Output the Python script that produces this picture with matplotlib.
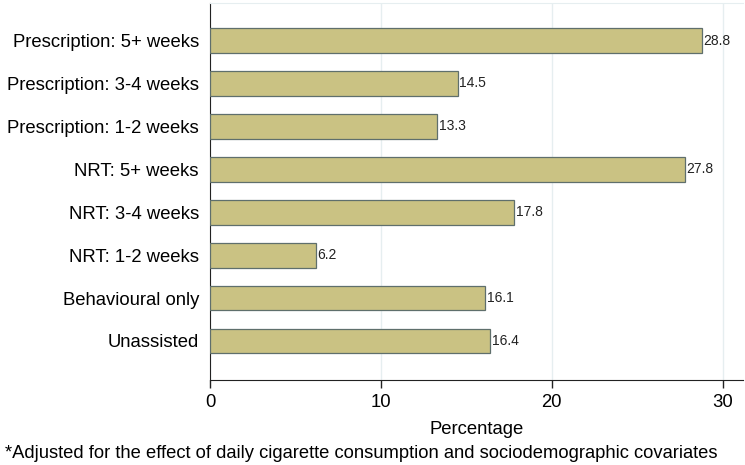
import numpy as np
import matplotlib.pyplot as plt

plt.rcParams['font.family'] = ['Liberation Sans', 'DejaVu Sans']

# data, top to bottom as in the chart
categories = ["Prescription: 5+ weeks", "Prescription: 3-4 weeks", "Prescription: 1-2 weeks",
              "NRT: 5+ weeks", "NRT: 3-4 weeks", "NRT: 1-2 weeks",
              "Behavioural only", "Unassisted"]
values = [28.8, 14.5, 13.3, 27.8, 17.8, 6.2, 16.1, 16.4]
xticks = [0, 10, 20, 30]
footnote = "*Adjusted for the effect of daily cigarette consumption and sociodemographic covariates"

fig = plt.figure(figsize=(7.45, 4.65), dpi=100)
ax = fig.add_axes([210/745, 1 - 380/465, 533/745, 377/465])

y = np.arange(len(categories))
ax.barh(y, values, height=0.58, color="#CAC283", edgecolor="#5F6F6C", linewidth=0.9, zorder=3)

#value labels at the end of each bar
for yi, v in zip(y, values):
    ax.text(v + 0.1, yi, f"{v:.1f}", va="center", ha="left", fontsize=10, color="#222222", zorder=4)

ax.set_ylim(len(categories) - 1 + 0.91, -0.875)
ax.set_xlim(0, 31.2)
ax.set_yticks(y)
ax.set_yticklabels(categories, fontsize=13.3)
ax.set_xticks(xticks)
ax.set_xticklabels([str(t) for t in xticks], fontsize=13.3)
ax.tick_params(axis="y", length=0, pad=8)
ax.tick_params(axis="x", length=6, width=1, color="#222222", pad=4)

ax.grid(axis="x", color="#E6EEF0", linewidth=1, zorder=0)
ax.spines["right"].set_visible(False)
ax.spines["top"].set_color("#E6EEF0")
ax.spines["left"].set_color("#222222")
ax.spines["bottom"].set_color("#222222")

ax.set_xlabel("Percentage", fontsize=13.3, labelpad=7)
fig.text(5/745, 1 - 453/465, footnote, fontsize=13.2, va="center", ha="left")

fig.savefig("out.png", dpi=100)
